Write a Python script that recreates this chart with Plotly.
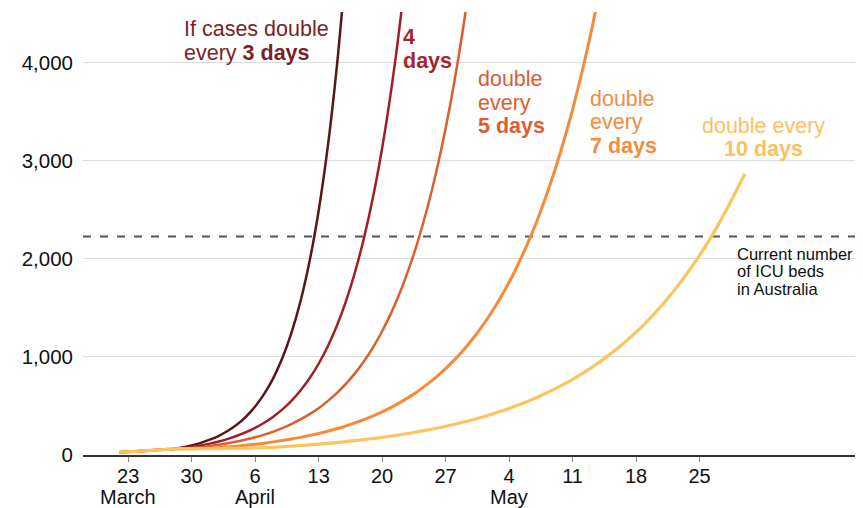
import pandas as pd
import plotly.graph_objects as go

# ---- data (days start 22 March 2020) ----
START = "2020-03-22"
SHARED = [28, 33, 38, 44, 50, 56, 62]  # 22-28 March, common history

DOUBLE_3 = SHARED + [76, 98, 124, 156, 196, 247, 311, 392, 494, 623, 785, 989, 1246,
                     1569, 1977, 2490, 3138, 3954, 4982]
DOUBLE_4 = SHARED + [70, 82, 98, 116, 138, 165, 196, 233, 277, 329, 391, 465, 553, 658,
                     783, 931, 1107, 1316, 1565, 1862, 2214, 2632, 3130, 3723, 4427, 5265]
DOUBLE_5 = SHARED + [66, 72, 80, 91, 104, 120, 137, 158, 181, 208, 239, 275, 316, 363,
                     417, 478, 550, 631, 725, 833, 957, 1099, 1263, 1450, 1666, 1914,
                     2198, 2525, 2901, 3332, 3827, 4397, 5051]
DOUBLE_7 = SHARED + [63, 65, 67, 70, 75, 82, 90, 100, 110, 121, 134, 148, 163, 180, 199,
                     220, 243, 268, 296, 327, 361, 399, 440, 486, 537, 593, 654, 723,
                     798, 881, 973, 1074, 1186, 1310, 1446, 1597, 1762, 1946, 2149, 2373,
                     2620, 2893, 3194, 3525, 3892, 4297, 4745]
DOUBLE_10 = SHARED + [62, 63, 64, 65, 66, 67, 68, 70, 72, 75, 78, 84, 90, 97, 103, 111,
                      119, 127, 137, 146, 157, 168, 180, 193, 207, 222, 238, 255, 273,
                      293, 314, 336, 360, 386, 414, 443, 475, 509, 546, 585, 627, 672,
                      720, 772, 828, 887, 951, 1019, 1092, 1170, 1254, 1344, 1441, 1544,
                      1655, 1774, 1901, 2037, 2183, 2340, 2508, 2688, 2870]
ICU_BEDS = 2229

SERIES = [("3 days", DOUBLE_3, "#5b1518"), ("4 days", DOUBLE_4, "#a21e27"),
          ("5 days", DOUBLE_5, "#dd5e2b"), ("7 days", DOUBLE_7, "#f58b39"),
          ("10 days", DOUBLE_10, "#fdc35e")]
WIDTHS = [2.5, 2.5, 2.5, 3, 3.2]

TICK_DATES = ["2020-03-23", "2020-03-30", "2020-04-06", "2020-04-13", "2020-04-20",
              "2020-04-27", "2020-05-04", "2020-05-11", "2020-05-18", "2020-05-25"]
TICK_TEXT = ["23", "30", "6", "13", "20", "27", "4", "11", "18", "25"]
MONTHS = [("2020-03-23", "March"), ("2020-04-06", "April"), ("2020-05-04", "May")]
Y_TICKS = [0, 1000, 2000, 3000, 4000]

FONT = "Liberation Sans, Arial, Helvetica, sans-serif"

# the page body has an 8px margin: the figure is drawn 8px lower/right
OFF = 8
FIG_W, FIG_H = 863 - OFF, 508 - OFF
L, T, W, H = 83 - OFF, 12 - OFF, 780, 443

fig = go.Figure()
for (name, vals, col), w in zip(SERIES, WIDTHS):
    dates = pd.date_range(START, periods=len(vals), freq="D")
    fig.add_trace(go.Scatter(x=dates, y=vals, mode="lines", name=name,
                             line=dict(color=col, width=w, shape="spline", smoothing=1),
                             hoverinfo="skip"))

fig.add_shape(type="line", xref="x domain", yref="y", x0=0, x1=1, y0=ICU_BEDS, y1=ICU_BEDS,
              line=dict(color="#555555", width=2, dash="8px,9px"), layer="below")


def px_ann(text, x, y, color, size=21.5, anchor="left", pad=1):
    # x, y: page-pixel position of the text's left edge / box top
    x -= OFF
    y -= OFF
    fig.add_annotation(text=text, xref="paper", yref="paper", borderpad=pad,
                       x=(x - L) / W, y=(T + H - y) / H, xanchor=anchor, yanchor="top",
                       showarrow=False, font=dict(family=FONT, size=size, color=color))


c3, c4, c5, c7, c10 = "#7a2326", "#a3262d", "#dc5e30", "#f48c3e", "#fcc061"
px_ann("If cases double", 182, 15, c3)
px_ann("every <b>3 days</b>", 182, 38.5, c3)
px_ann("<b>4</b>", 401, 23.5, c4)
px_ann("<b>days</b>", 401, 47, c4)
px_ann("double", 476, 65, c5)
px_ann("every", 476, 88.5, c5)
px_ann("<b>5 days</b>", 476, 112, c5)
px_ann("double", 588, 85, c7)
px_ann("every", 588, 108.5, c7)
px_ann("<b>7 days</b>", 588, 132, c7)
px_ann("double every", 763, 112, c10, anchor="center")
px_ann("<b>10 days</b>", 763, 134.5, c10, anchor="center")
px_ann("Current number", 736, 243.5, "#111111", size=16.5, pad=0)
px_ann("of ICU beds", 736, 261, "#111111", size=16.5, pad=0)
px_ann("in Australia", 736, 278.5, "#111111", size=16.5, pad=0)

for d, m in MONTHS:
    fig.add_annotation(text=m, x=d, y=0, xref="x", yref="y", xanchor="center",
                       yanchor="top", yshift=-29, showarrow=False,
                       font=dict(family=FONT, size=20, color="#111111"))

fig.update_layout(
    width=FIG_W, height=FIG_H, margin=dict(l=L, r=0, t=T, b=FIG_H - T - H),
    paper_bgcolor="white", plot_bgcolor="white", showlegend=False,
    font=dict(family=FONT, size=20.5, color="#111111"),
)
fig.update_xaxes(type="date", range=["2020-03-18 00:30", "2020-06-12 00:30"],
                 tickvals=TICK_DATES, ticktext=TICK_TEXT, ticks="outside", ticklen=5,
                 tickcolor="#888888", tickwidth=1, showline=True, linecolor="#333333",
                 linewidth=1.5, showgrid=False, zeroline=False, ticklabelstandoff=-3,
                 tickfont=dict(family=FONT, size=20, color="#111111"))
fig.update_yaxes(range=[0, 4520], tickvals=Y_TICKS, tickformat=",", showgrid=True,
                 gridcolor="#dddddd", gridwidth=1, zeroline=False, showline=False,
                 ticks="", ticklabelstandoff=9,
                 tickfont=dict(family=FONT, size=20.5, color="#111111"))

fig.write_html("out.html")
